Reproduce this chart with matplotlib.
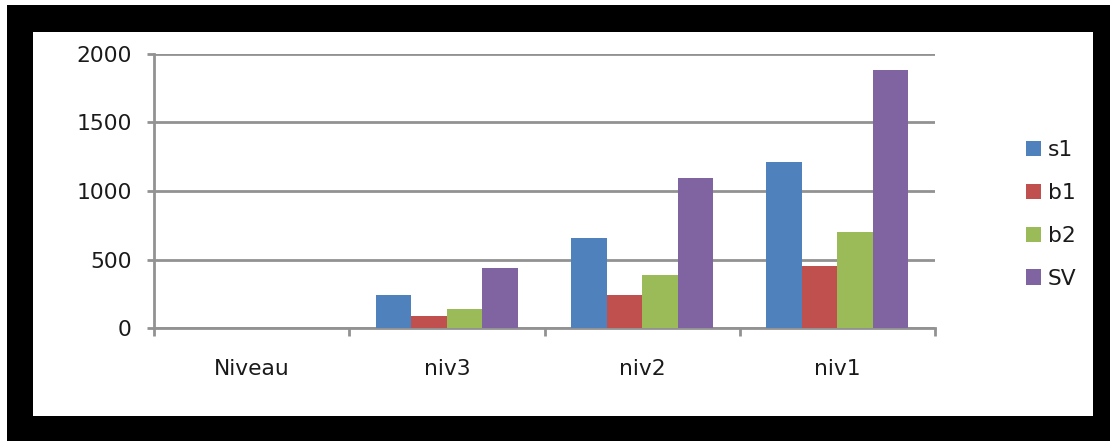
import numpy as np
import matplotlib
matplotlib.use("Agg")
import matplotlib.pyplot as plt
from matplotlib.patches import Rectangle

# données
categories = ["Niveau", "niv3", "niv2", "niv1"]
s1 = [0, 238, 658, 1210]
b1 = [0, 88, 238, 453]
b2 = [0, 137, 389, 704]
sv = [0, 438, 1094, 1884]
series_names = ["s1", "b1", "b2", "SV"]
colors = ["#4F81BD", "#C0504D", "#9BBB59", "#8064A2"]

plt.rcParams['font.family'] = ['DejaVu Sans']
text_color = "#1a1a1a"
grid_color = "#929292"
fs = 15.7

fig = plt.figure(figsize=(11.10, 4.41), dpi=100)
fig.patch.set_facecolor("white")

# cadre noir + zone blanche
W, H = 1110, 441
fig.add_artist(Rectangle((7 / W, 0), 1 - 7 / W, 1 - 5 / H, transform=fig.transFigure,
                         facecolor="black", edgecolor="none", zorder=0))
fig.add_artist(Rectangle((33 / W, 1 - 416 / H), (1093 - 33) / W, (416 - 32) / H,
                         transform=fig.transFigure, facecolor="white", edgecolor="none", zorder=0))

ax = fig.add_axes([154 / W, 1 - 328 / H, (935 - 154) / W, (328 - 54) / H])
ax.set_facecolor("none")

x = np.arange(len(categories))
n = len(series_names)
bar_w = 1 / (n + 1.5)
for i, (name, vals, c) in enumerate(zip(series_names, [s1, b1, b2, sv], colors)):
    offs = (i - (n - 1) / 2) * bar_w
    ax.bar(x + offs, vals, width=bar_w, color=c, label=name, linewidth=0, zorder=3)

ax.set_xlim(-0.5, len(categories) - 0.5)
ax.set_ylim(0, 2000)
ax.set_yticks([0, 500, 1000, 1500, 2000])
ax.yaxis.grid(True, color=grid_color, linewidth=2, zorder=0)

for side in ["top", "right"]:
    ax.spines[side].set_visible(False)
for side in ["left", "bottom"]:
    ax.spines[side].set_color(grid_color)
    ax.spines[side].set_linewidth(2)

ax.tick_params(axis="y", length=5, width=2, color=grid_color, pad=11,
               labelsize=fs, labelcolor=text_color)
ax.set_xticks(x)
ax.set_xticklabels(categories)
ax.set_xticks(np.arange(-0.5, len(categories)), minor=True)
ax.tick_params(axis="x", which="major", length=0, pad=22, labelsize=fs, labelcolor=text_color)
ax.tick_params(axis="x", which="minor", length=6, width=2, color=grid_color)

leg = ax.legend(loc="center left", bbox_to_anchor=(1026 / W, 1 - 214.5 / H),
                bbox_transform=fig.transFigure, frameon=False, fontsize=fs,
                handlelength=0.7, handleheight=0.7, handletextpad=0.3,
                labelspacing=1.04, borderpad=0, borderaxespad=0)
for t in leg.get_texts():
    t.set_color(text_color)

fig.savefig("out.png", dpi=100)
